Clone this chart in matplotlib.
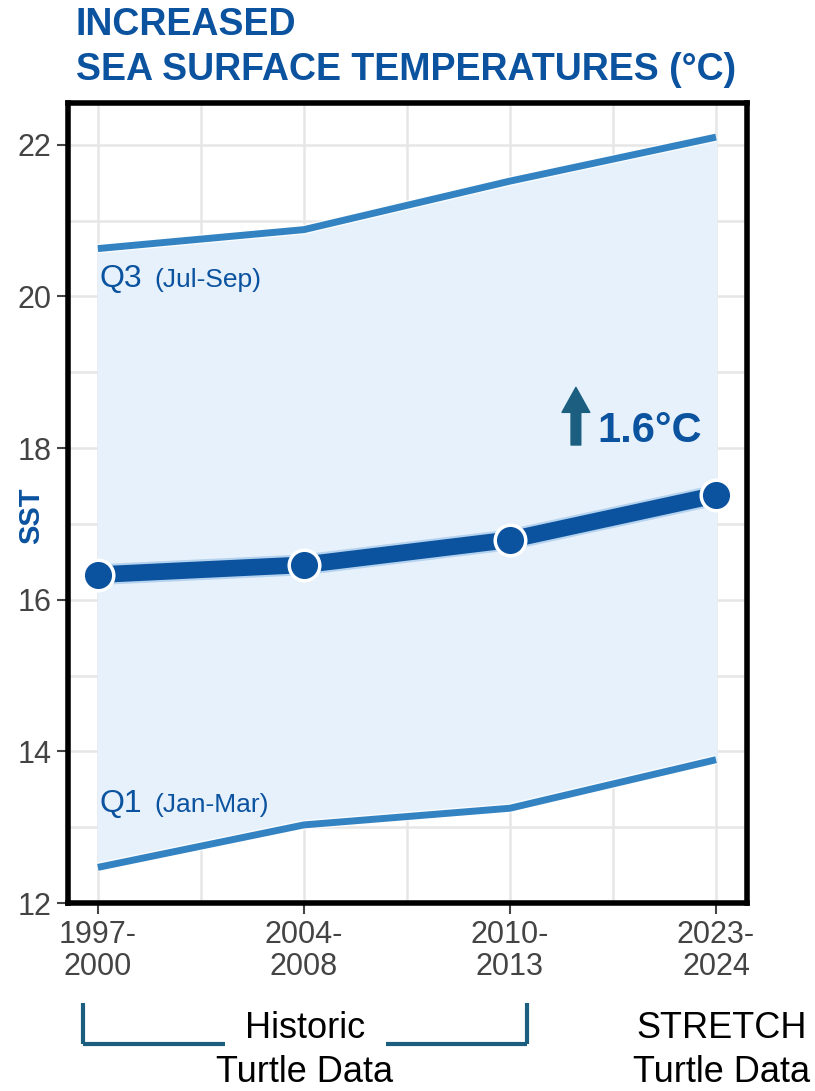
import matplotlib
matplotlib.use("Agg")
import matplotlib.pyplot as plt
from matplotlib import font_manager
import matplotlib.patheffects as pe

periods = ["1997-\n2000", "2004-\n2008", "2010-\n2013", "2023-\n2024"]
q3_values = [20.63, 20.88, 21.52, 22.10]
mean_values = [16.33, 16.46, 16.79, 17.38]
q1_values = [12.47, 13.03, 13.25, 13.89]
y_ticks = [12, 14, 16, 18, 20, 22]

names = {f.name for f in font_manager.fontManager.ttflist}
narrow = "Liberation Sans Narrow" if "Liberation Sans Narrow" in names else "Liberation Sans"
plt.rcParams['font.family'] = ['Liberation Sans', 'DejaVu Sans']

BLUE = "#0B529F"
MID = "#3383C2"
FILL = "#E6F1FC"
TEAL = "#1B5E80"

fig = plt.figure(figsize=(8.15, 10.91), dpi=100)
ax = fig.add_axes([0.0834, 0.1723, 0.8331, 0.7333])
x = list(range(1, len(periods) + 1))

ax.fill_between(x, q1_values, q3_values, color=FILL, zorder=1)
halo = [pe.Stroke(linewidth=7, foreground="white", alpha=0.8), pe.Normal()]
ax.plot(x, q3_values, color=MID, lw=5, zorder=3, solid_capstyle="butt", path_effects=halo)
ax.plot(x, q1_values, color=MID, lw=5, zorder=3, solid_capstyle="butt", path_effects=halo)
ax.plot(x, mean_values, color=BLUE, lw=12, zorder=4, solid_capstyle="butt",
        path_effects=[pe.Stroke(linewidth=15, foreground="#B5D3EE"), pe.Normal()])
ax.plot(x, mean_values, linestyle="none", marker="o", ms=22, mfc=BLUE, mec="white", mew=2.5, zorder=5)

ax.set_xlim(0.855, 4.15)
ax.set_ylim(12, 22.55)
ax.set_xticks(x)
ax.set_xticklabels(periods, fontsize=22, color="#444444", linespacing=1.1)
ax.set_yticks(y_ticks)
ax.set_yticklabels([str(v) for v in y_ticks], fontsize=22, color="#444444")
ax.set_xticks([1.5, 2.5, 3.5], minor=True)
ax.set_yticks([13, 15, 17, 19, 21], minor=True)
ax.tick_params(which="major", length=8, width=1.5, color="#444444", direction="out", pad=4)
ax.tick_params(which="minor", length=0)
ax.grid(which="both", color="#E6E6E6", lw=1.8, zorder=0)
ax.set_axisbelow(True)
for s in ax.spines.values():
    s.set_linewidth(4)
    s.set_color("black")

fig.text(31/815, 1-516/1091, "SST", fontsize=21, fontweight="bold", color=BLUE,
         rotation=90, ha="center", va="center")

ax.text(1.01, 20.12, "Q3", fontsize=23, color=BLUE, va="baseline", ha="left")
ax.text(1.275, 20.12, "(Jul-Sep)", fontsize=19, color=BLUE, va="baseline", ha="left")
ax.text(1.01, 13.20, "Q1", fontsize=23, color=BLUE, va="baseline", ha="left")
ax.text(1.275, 13.20, "(Jan-Mar)", fontsize=19, color=BLUE, va="baseline", ha="left")

ax.annotate("", xy=(3.32, 18.80), xytext=(3.32, 18.04),
            arrowprops=dict(width=7, headwidth=20, headlength=18, color=TEAL, shrink=0))
ax.text(3.425, 18.08, "1.6°C", fontsize=30, fontweight="bold", color=BLUE, va="baseline", ha="left")

fig.text(0.093, 1-35/1091, "INCREASED", fontsize=27, fontweight="bold",
         color=BLUE, family=[narrow, 'DejaVu Sans'], ha="left", va="baseline")
fig.text(0.093, 1-80/1091, "SEA SURFACE TEMPERATURES (°C)", fontsize=27, fontweight="bold",
         color=BLUE, family=[narrow, 'DejaVu Sans'], ha="left", va="baseline")

# bottom bracket annotation
lkw = dict(color=TEAL, lw=3, solid_capstyle="butt")
fig.add_artist(plt.Line2D([83/815, 83/815], [1-1003/1091, 1-1044/1091], **lkw))
fig.add_artist(plt.Line2D([83/815, 225/815], [1-1044/1091, 1-1044/1091], **lkw))
fig.add_artist(plt.Line2D([386/815, 527/815], [1-1044/1091, 1-1044/1091], **lkw))
fig.add_artist(plt.Line2D([527/815, 527/815], [1-1044/1091, 1-1003/1091], **lkw))
for tx, ty, s in [(305, 1028, "Historic"), (305, 1073, "Turtle Data"),
                  (722, 1028, "STRETCH"), (722, 1073, "Turtle Data")]:
    fig.text(tx/815, 1-ty/1091, s, fontsize=26, color="black", ha="center", va="center",
             family=[narrow, 'DejaVu Sans'])

fig.savefig("out.png", dpi=100)
